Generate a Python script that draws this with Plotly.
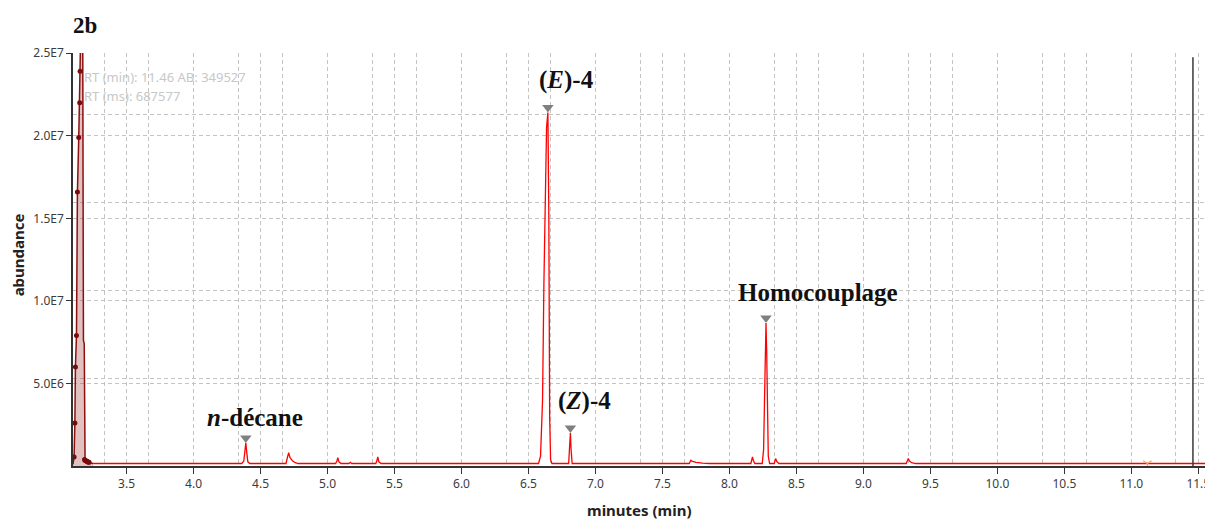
import plotly.graph_objects as go

# ---------------- data ----------------
# solvent front (dark red, integrated & shaded)
solvent_rt = [3.100, 3.108, 3.114, 3.118, 3.126, 3.133, 3.143, 3.150, 3.153, 3.158, 3.166,
              3.172, 3.175, 3.178, 3.184, 3.186, 3.190, 3.200, 3.210, 3.220, 3.235, 3.25]
solvent_ab = [0.10e6, 0.55e6, 2.6e6, 6.0e6, 7.9e6, 16.6e6, 19.9e6, 22.0e6, 23.9e6, 28.0e6, 30.0e6,
              28.0e6, 16.0e6, 7.6e6, 7.4e6, 0.40e6, 0.35e6, 0.30e6, 0.25e6, 0.22e6, 0.18e6, 0.15e6]
# individual acquisition points drawn as dots on the solvent front
solvent_dot_rt = [3.108, 3.114, 3.118, 3.126, 3.133, 3.143, 3.150, 3.153,
                  3.186, 3.190, 3.195, 3.200, 3.205, 3.210, 3.215, 3.220]
solvent_dot_ab = [0.55e6, 2.6e6, 6.0e6, 7.9e6, 16.6e6, 19.9e6, 22.0e6, 23.9e6,
                  0.40e6, 0.35e6, 0.32e6, 0.30e6, 0.27e6, 0.25e6, 0.23e6, 0.22e6]

# main chromatogram trace (red)
chrom_rt = [3.25, 4.36, 4.375, 4.383, 4.390, 4.396, 4.405, 4.42,
            4.69, 4.700, 4.710, 4.720, 4.740, 4.760, 4.78,
            5.06, 5.070, 5.077, 5.085, 5.10, 5.16, 5.170, 5.18,
            5.36, 5.368, 5.375, 5.383, 5.40,
            6.575, 6.590, 6.605, 6.615, 6.625, 6.635, 6.645, 6.652, 6.658, 6.665, 6.675,
            6.800, 6.807, 6.813, 6.818, 6.826,
            7.700, 7.712, 7.720, 7.750, 7.800, 7.850,
            8.160, 8.172, 8.180, 8.190,
            8.245, 8.255, 8.262, 8.268, 8.273, 8.278, 8.283, 8.290, 8.300,
            8.335, 8.345, 8.355, 8.370,
            9.320, 9.335, 9.345, 9.360, 9.390, 11.55]
chrom_ab = [0.15e6, 0.15e6, 0.30e6, 1.00e6, 1.40e6, 0.90e6, 0.25e6, 0.15e6,
            0.15e6, 0.50e6, 0.80e6, 0.50e6, 0.30e6, 0.20e6, 0.15e6,
            0.15e6, 0.30e6, 0.50e6, 0.25e6, 0.15e6, 0.15e6, 0.22e6, 0.15e6,
            0.15e6, 0.30e6, 0.55e6, 0.25e6, 0.15e6,
            0.15e6, 0.60e6, 4.0e6, 11.0e6, 17.5e6, 20.5e6, 21.4e6, 15.0e6, 3.0e6, 0.40e6, 0.15e6,
            0.15e6, 1.20e6, 2.00e6, 1.00e6, 0.15e6,
            0.15e6, 0.35e6, 0.30e6, 0.22e6, 0.18e6, 0.15e6,
            0.15e6, 0.55e6, 0.30e6, 0.15e6,
            0.15e6, 1.0e6, 4.0e6, 7.8e6, 8.66e6, 7.0e6, 3.5e6, 0.6e6, 0.15e6,
            0.15e6, 0.45e6, 0.25e6, 0.15e6,
            0.15e6, 0.45e6, 0.30e6, 0.20e6, 0.15e6, 0.15e6]

# labelled peaks
peak_rt = [4.390, 6.645, 6.813, 8.273]
peak_ab = [1.40e6, 21.4e6, 2.00e6, 8.66e6]
peak_labels = ["<i>n</i>-décane", "(<i>E</i>)-4", "(<i>Z</i>)-4", "Homocouplage"]
label_dx = [-41, -11, -14, -30]
label_dy = [10, 17, 16, 15]

cursor_rt = 11.46
marker_v_rt = [11.12]
marker_v_ab = [0.15e6]

x_range = [3.100, 11.55]
y_range = [0, 2.5e7]
y_tickvals = [5e6, 1e7, 1.5e7, 2e7, 2.5e7]
y_ticktext = ["5.0E6", "1.0E7", "1.5E7", "2.0E7", "2.5E7"]

# ---------------- layout constants ----------------
# the page body adds an 8 px offset, so the figure is a little smaller than the window
W, H = 1205, 512
M_L, M_R, M_T, M_B = 65, 4, 45, 54
plot_h = H - M_T - M_B
units_per_px = (y_range[1] - y_range[0]) / plot_h
tri_size = 10
tri_off = (tri_size / 2) * units_per_px

grid_col = "#c4c4c4"
axis_col = "#333333"
tick_font = dict(family="Noto Sans", size=12, color="#3c3c3c")

fig = go.Figure()

# solvent peak shaded area + dark line
fig.add_trace(go.Scatter(x=solvent_rt, y=solvent_ab, mode="lines", fill="tozeroy",
                         fillcolor="rgba(160,50,50,0.30)",
                         line=dict(color="#8b1010", width=1.5), hoverinfo="skip"))
fig.add_trace(go.Scatter(x=solvent_dot_rt, y=solvent_dot_ab, mode="markers",
                         marker=dict(color="#7a0a0a", size=5), hoverinfo="skip"))
# chromatogram
fig.add_trace(go.Scatter(x=chrom_rt, y=chrom_ab, mode="lines",
                         line=dict(color="#ff0000", width=1.3), hoverinfo="skip"))
# peak apex triangles
fig.add_trace(go.Scatter(x=peak_rt, y=[v + tri_off for v in peak_ab], mode="markers",
                         marker=dict(symbol="triangle-down", size=tri_size, color="#7f7f7f"),
                         hoverinfo="skip"))
# small V marker
fig.add_trace(go.Scatter(x=marker_v_rt, y=marker_v_ab, mode="markers",
                         marker=dict(symbol="y-down-open", size=7,
                                     line=dict(color="#e06060", width=1.2)),
                         hoverinfo="skip"))
# dummy trace to activate secondary axes (seconds grid & right axis)
fig.add_trace(go.Scatter(x=[None], y=[None], xaxis="x2", yaxis="y2", hoverinfo="skip"))

for rt, ab, txt, dx, dy in zip(peak_rt, peak_ab, peak_labels, label_dx, label_dy):
    fig.add_annotation(x=rt, y=ab, text="<b>" + txt + "</b>", showarrow=False,
                       xanchor="left", yanchor="bottom", xshift=dx, yshift=dy,
                       font=dict(family="Liberation Serif", size=25, color="#111111"))

# cursor line
fig.add_shape(type="line", xref="x", yref="paper", x0=cursor_rt, x1=cursor_rt, y0=0, y1=0.99,
              line=dict(color="#3a3a3a", width=1.5))

# texts
fig.add_annotation(xref="paper", yref="paper", x=0, y=1, xanchor="left", yanchor="middle",
                   xshift=-2, yshift=28, showarrow=False, text="<b>2b</b>",
                   font=dict(family="Liberation Serif", size=23, color="#111111"))
fig.add_annotation(xref="paper", yref="paper", x=0, y=1, xanchor="left", yanchor="middle",
                   xshift=9, yshift=-24, showarrow=False, text="RT (min): 11.46 AB: 349527",
                   font=dict(family="Noto Sans", size=13, color="#c8c8c8"))
fig.add_annotation(xref="paper", yref="paper", x=0, y=1, xanchor="left", yanchor="middle",
                   xshift=9, yshift=-43, showarrow=False, text="RT (ms): 687577",
                   font=dict(family="Noto Sans", size=13, color="#c8c8c8"))
fig.add_annotation(xref="paper", yref="paper", x=0.5, y=0, xanchor="center", yanchor="middle",
                   yshift=-44, showarrow=False, text="<b>minutes (min)</b>",
                   font=dict(family="Noto Sans", size=15, color="#222222"))
fig.add_annotation(xref="paper", yref="paper", x=0, y=0.51, xanchor="center", yanchor="middle",
                   xshift=-55, textangle=-90, showarrow=False, text="<b>abundance</b>",
                   font=dict(family="Noto Sans", size=15, color="#222222"))

fig.update_layout(
    width=W, height=H, margin=dict(l=M_L, r=M_R, t=M_T, b=M_B),
    paper_bgcolor="white", plot_bgcolor="white", showlegend=False,
    xaxis=dict(range=x_range, tick0=3.5, dtick=0.5, tickformat=".1f",
               showgrid=True, gridcolor=grid_col, griddash="4px,3px", gridwidth=1,
               zeroline=False, showline=True, linecolor=axis_col, linewidth=1.5,
               ticks="outside", ticklen=6, tickcolor=axis_col, tickfont=tick_font),
    yaxis=dict(range=[y_range[0], y_range[1] * 1.0004], tickvals=y_tickvals, ticktext=y_ticktext,
               showgrid=True, gridcolor=grid_col, griddash="4px,3px", gridwidth=1,
               zeroline=False, showline=True, linecolor=axis_col, linewidth=1.5,
               ticks="outside", ticklen=5, tickcolor=axis_col, tickfont=tick_font),
    xaxis2=dict(overlaying="x", side="top", range=[x_range[0] * 60, x_range[1] * 60],
                tick0=0, dtick=20, showticklabels=False, ticks="",
                showgrid=True, gridcolor=grid_col, griddash="4px,3px", gridwidth=1,
                zeroline=False, showline=False),
    yaxis2=dict(overlaying="y", side="right", range=[0, plot_h / 88.0], tick0=0, dtick=1,
                showticklabels=False, ticks="outside", ticklen=4, tickcolor=axis_col,
                showgrid=True, gridcolor=grid_col, griddash="4px,3px", gridwidth=1,
                zeroline=False, showline=True, linecolor=axis_col, linewidth=1.5),
)

fig.write_html("out.html")
